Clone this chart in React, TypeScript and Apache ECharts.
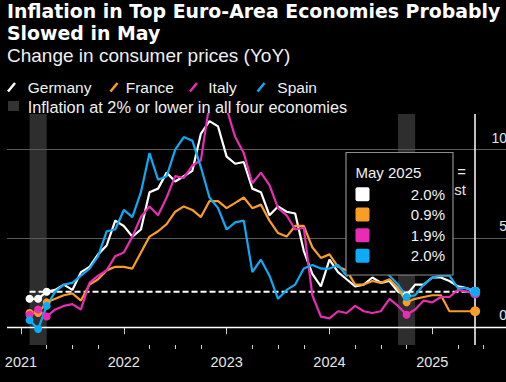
import React, { useEffect, useRef } from "react";
import * as echarts from "echarts";

// ---------- data ----------
const START_YEAR = 2021;
const months: string[] = Array.from({ length: 53 }, (_, i) =>
  `${START_YEAR + Math.floor(i / 12)}-${String((i % 12) + 1).padStart(2, "0")}`
);

const germany = [
  1.6, 1.6, 2.0, 2.1, 2.4, 2.1, 3.1, 3.4, 4.1, 4.6, 6.0, 5.7,
  5.1, 5.5, 7.6, 7.8, 8.7, 8.2, 8.5, 8.8, 10.9, 11.6, 11.3, 9.6,
  9.2, 9.3, 7.8, 7.6, 6.3, 6.8, 6.5, 6.4, 4.3, 3.0, 2.3, 3.8,
  3.1, 2.7, 2.3, 2.4, 2.8, 2.5, 2.6, 2.0, 1.8, 2.4, 2.4, 2.8,
  2.8, 2.6, 2.3, 2.2, 2.0,
];
const france = [
  0.8, 0.8, 1.4, 1.6, 1.8, 1.9, 1.5, 2.4, 2.7, 3.2, 3.4, 3.4,
  3.3, 4.2, 5.1, 5.4, 5.8, 6.5, 6.8, 6.6, 6.2, 7.1, 7.1, 6.7,
  7.0, 7.3, 6.7, 6.9, 6.0, 5.3, 5.1, 5.7, 5.7, 4.5, 3.9, 4.1,
  3.4, 3.2, 2.4, 2.4, 2.6, 2.5, 2.7, 2.2, 1.4, 1.6, 1.7, 1.8,
  1.8, 0.9, 0.9, 0.9, 0.9,
];
const italy = [
  0.7, 1.0, 0.6, 1.0, 1.2, 1.3, 1.0, 2.5, 2.9, 3.2, 4.0, 4.2,
  5.1, 6.2, 6.8, 6.3, 7.3, 8.5, 8.4, 9.1, 9.4, 12.6, 12.6, 12.3,
  10.7, 9.8, 8.1, 8.7, 8.0, 6.7, 6.3, 5.5, 5.6, 1.8, 0.6, 0.5,
  0.9, 0.8, 1.2, 0.9, 0.8, 0.9, 1.6, 1.2, 0.7, 1.0, 1.5, 1.4,
  1.7, 1.7, 2.1, 2.0, 1.9,
];
const spain = [
  0.4, -0.1, 1.2, 2.0, 2.4, 2.5, 2.9, 3.3, 4.0, 5.4, 5.5, 6.6,
  6.2, 7.6, 9.8, 8.3, 8.5, 10.0, 10.7, 10.5, 9.0, 7.3, 6.7, 5.5,
  5.9, 6.0, 3.1, 3.8, 2.9, 1.6, 2.1, 2.4, 3.3, 3.5, 3.3, 3.3,
  3.5, 2.9, 3.2, 3.4, 3.8, 3.6, 2.9, 2.4, 1.7, 1.8, 2.4, 2.8,
  2.9, 2.9, 2.2, 2.2, 2.0,
];

const countryNames = ["Germany", "France", "Italy", "Spain"];
const countryColors = ["#ffffff", "#f99d25", "#e82db4", "#0dabf5"];
const countryData = [germany, france, italy, spain];

const bandRanges: [string, string][] = [
  ["2021-01", "2021-03"],
  ["2024-08", "2024-10"],
];
const dotMonths = ["2021-01", "2021-02", "2021-03", "2024-09"];
const latestMonth = "2025-05";
const latestLabel = "May 2025";
const targetRate = 2;
const yTicks = [0, 5, 10];
const years = [2021, 2022, 2023, 2024, 2025];

// month-end position, in months since Jan 1 2021
const pos = (m: string) => months.indexOf(m) + 1;

const FONT = "'Liberation Sans', Arial, sans-serif";

export default function App() {
  const ref = useRef<HTMLDivElement>(null);
  useEffect(() => {
    if (!ref.current) return;
    const chart = echarts.init(ref.current, null, { renderer: "svg" });

    const yearTickVals = years.map((y) => (y - START_YEAR) * 12);
    const quarterTickVals: number[] = [];
    for (let v = 0; v <= (years[years.length - 1] - START_YEAR) * 12 + 6; v += 3) {
      if (v % 12 !== 0) quarterTickVals.push(v);
    }
    const xMin = -1.63;
    const xMax = 56.6;

    const lineSeries = countryData.map((d, k) => ({
      type: "line",
      name: countryNames[k],
      data: d.map((v, i) => [i + 1, v]),
      showSymbol: false,
      symbol: "none",
      lineStyle: { width: 2.2, color: countryColors[k] },
      itemStyle: { color: countryColors[k] },
      z: 5 + k,
      silent: true,
      clip: true,
    }));
    const dotSeries = countryData.map((d, k) => ({
      type: "scatter",
      data: [
        ...dotMonths.map((m) => ({ value: [pos(m), d[months.indexOf(m)]], symbolSize: 8 })),
        { value: [pos(latestMonth), d[months.indexOf(latestMonth)]], symbolSize: 10 },
      ],
      itemStyle: { color: countryColors[k], opacity: 1 },
      z: 20 + k,
      silent: true,
    }));

    const first = months[0];
    const hostSeries = {
      type: "line",
      data: [
        {
          value: [pos(first), targetRate],
          label: {
            show: true,
            formatter: `${targetRate}%`,
            position: "top",
            align: "left",
            offset: [-1, 0],
            distance: 4,
            color: "#e6e6e6",
            fontSize: 15,
            fontFamily: FONT,
          },
        },
        [pos(latestMonth), targetRate],
      ],
      symbol: "none",
      showSymbol: false,
      lineStyle: { color: "#ffffff", width: 2, type: [6, 3] },
      z: 4,
      silent: true,
      markArea: {
        silent: true,
        itemStyle: { color: "#2e2e2e" },
        data: bandRanges.map(([a, b]) => [{ xAxis: pos(a) }, { xAxis: pos(b) }]),
      },
      markLine: {
        silent: true,
        symbol: ["none", "none"],
        label: { show: false },
        data: [
          ...yTicks.map((v) => ({
            yAxis: v,
            lineStyle: { color: v === 0 ? "#ffffff" : "#5a5a5a", width: v === 0 ? 1.3 : 1, type: "solid" },
          })),
          { xAxis: pos(latestMonth), lineStyle: { color: "#ffffff", width: 1.5, type: "solid" } },
        ],
      },
    };

    // legend + box graphics
    const legendItems: any[] = [];
    const legendX = [7.5, 110, 189.5, 257];
    const legendTextX = [27.7, 125.7, 208.3, 277.3];
    countryNames.forEach((n, k) => {
      legendItems.push({
        type: "line",
        shape: { x1: legendX[k] + 0.5, y1: 91.5, x2: legendX[k] + 7.5, y2: 83 },
        style: { stroke: countryColors[k], lineWidth: 2.5 },
      });
      legendItems.push({
        type: "text",
        x: legendTextX[k],
        y: 87.5,
        style: { text: n, fill: "#f0f0f0", font: `15.5px ${FONT}`, textVerticalAlign: "middle" },
      });
    });
    legendItems.push({
      type: "rect",
      shape: { x: 8, y: 101, width: 11, height: 10 },
      style: { fill: "#333333" },
    });
    legendItems.push({
      type: "text",
      x: 27.7,
      y: 106.5,
      style: {
        text: "Inflation at 2% or lower in all four economies",
        fill: "#f0f0f0",
        font: `16.3px ${FONT}`,
        textVerticalAlign: "middle",
      },
    });

    const boxX = 346, boxY = 152.5, boxW = 107, boxH = 122.5;
    const rowY = [194.3, 214.6, 235.2, 255.7];
    const li = months.indexOf(latestMonth);
    const boxItems: any[] = [
      {
        type: "rect",
        shape: { x: boxX, y: boxY, width: boxW, height: boxH },
        style: { fill: "#000000", stroke: "#8c8c8c", lineWidth: 1.2 },
        z: 100,
      },
      {
        type: "text",
        x: 355.5,
        y: 172,
        z: 101,
        style: { text: latestLabel, fill: "#f2f2f2", font: `15px ${FONT}`, textVerticalAlign: "middle" },
      },
      ...countryData.flatMap((d, k) => [
        {
          type: "rect",
          shape: { x: 355.5, y: rowY[k] - 7, width: 14, height: 14, r: 2 },
          style: { fill: countryColors[k] },
          z: 101,
        },
        {
          type: "text",
          x: 445,
          y: rowY[k],
          z: 101,
          style: {
            text: `${d[li].toFixed(1)}%`,
            fill: "#f2f2f2",
            font: `15px ${FONT}`,
            textAlign: "right",
            textVerticalAlign: "middle",
          },
        },
      ]),
    ];

    chart.setOption({
      animation: false,
      backgroundColor: "#000000",
      grid: { left: 7, right: 0, top: 114, bottom: 37, containLabel: false, outerBoundsMode: "none" },
      xAxis: [
        {
          type: "value",
          min: xMin,
          max: xMax,
          position: "bottom",
          axisLine: { show: false },
          splitLine: { show: false },
          axisTick: {
            show: true,
            customValues: yearTickVals,
            length: 7,
            lineStyle: { color: "#d0d0d0", width: 1 },
          },
          axisLabel: {
            show: true,
            customValues: yearTickVals,
            formatter: (v: number) => String(START_YEAR + Math.round(v / 12)),
            color: "#e6e6e6",
            fontSize: 14.5,
            fontFamily: FONT,
            margin: 9,
          },
        },
        {
          type: "value",
          min: xMin,
          max: xMax,
          position: "bottom",
          axisLine: { show: false },
          splitLine: { show: false },
          axisTick: {
            show: true,
            customValues: quarterTickVals,
            length: 4,
            lineStyle: { color: "#d0d0d0", width: 1 },
          },
          axisLabel: { show: false },
        },
      ],
      yAxis: {
        type: "value",
        min: -1,
        max: 12,
        position: "right",
        axisLine: { show: false },
        axisTick: { show: false },
        splitLine: { show: false },
        axisLabel: {
          show: true,
          inside: true,
          customValues: yTicks,
          margin: -1,
          verticalAlign: "bottom",
          padding: [0, 0, 5, 0],
          color: "#e6e6e6",
          fontSize: 14,
          fontFamily: FONT,
        },
      },
      graphic: [
        {
          type: "text",
          x: 7,
          y: 10.5,
          style: {
            text: "Inflation in Top Euro-Area Economies Probably",
            fill: "#ffffff",
            font: `bold 18.9px 'DejaVu Sans', sans-serif`,
            textVerticalAlign: "middle",
          },
        },
        {
          type: "text",
          x: 7,
          y: 32.5,
          style: {
            text: "Slowed in May",
            fill: "#ffffff",
            font: `bold 18.9px 'DejaVu Sans', sans-serif`,
            textVerticalAlign: "middle",
          },
        },
        {
          type: "text",
          x: 7,
          y: 55,
          style: {
            text: "Change in consumer prices (YoY)",
            fill: "#f0f0f0",
            font: `19px ${FONT}`,
            textVerticalAlign: "middle",
          },
        },
        ...legendItems,
        {
          type: "text",
          x: 466,
          y: 171,
          z: 50,
          style: { text: "=", fill: "#e6e6e6", font: `15px ${FONT}`, textAlign: "right", textVerticalAlign: "middle" },
        },
        {
          type: "text",
          x: 466,
          y: 189,
          z: 50,
          style: { text: "st", fill: "#e6e6e6", font: `15px ${FONT}`, textAlign: "right", textVerticalAlign: "middle" },
        },
        ...boxItems,
      ],
      series: [hostSeries, ...lineSeries, ...dotSeries],
    });

    return () => chart.dispose();
  }, []);

  return (
    <div
      ref={ref}
      style={{ position: "fixed", left: 0, top: 0, width: 506, height: 382, background: "#000" }}
    />
  );
}
